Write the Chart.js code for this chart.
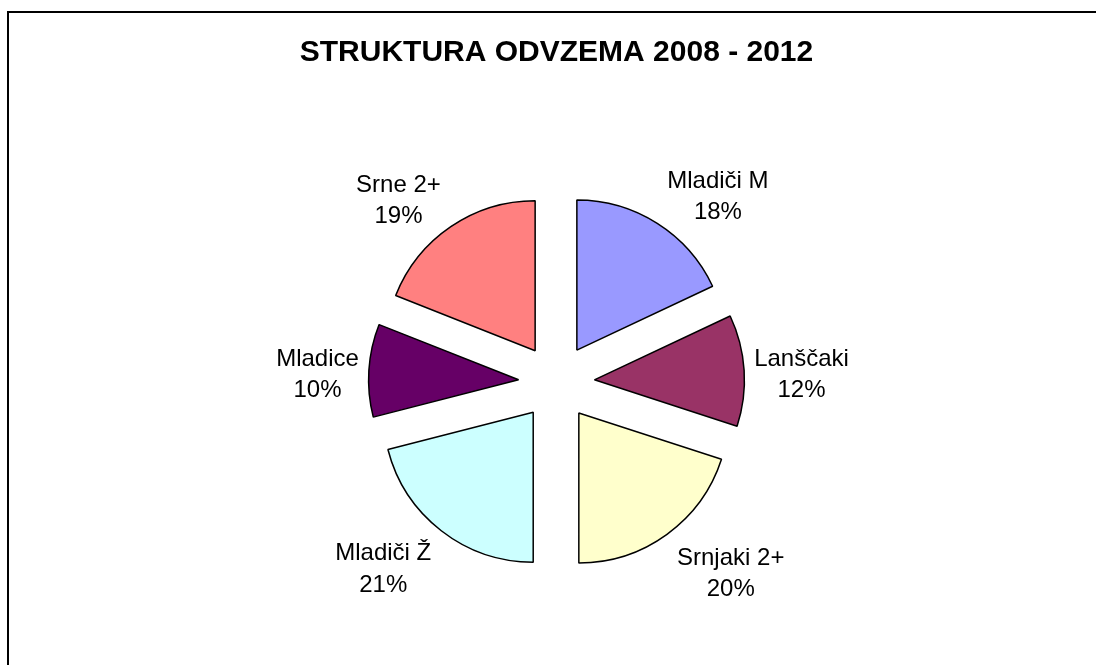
<!DOCTYPE html>
<html>
<head>
<meta charset="utf-8">
<script src="https://cdn.jsdelivr.net/npm/chart.js@4"></script>
<style>
body { margin: 0; background: #fff; }
#frame { position: absolute; left: 7px; top: 11px; width: 1200px; height: 800px; border: 2px solid #000; }
#graph { position: absolute; left: 0; top: 0; }
</style>
</head>
<body>
<div id="frame"></div>
<canvas id="graph" width="1096" height="665"></canvas>
<script>
const chartTitle = 'STRUKTURA ODVZEMA 2008 - 2012';
const categories = ['Mladiči M', 'Lanščaki', 'Srnjaki 2+', 'Mladiči Ž', 'Mladice', 'Srne 2+'];
const shares = [18, 12, 20, 21, 10, 19];
const colors = ['#9999FF', '#993366', '#FFFFCC', '#CCFFFF', '#660066', '#FF8080'];

const explode = 38;
const labelFont = '24px Arial, "Liberation Sans", sans-serif';

// push every slice out along its own middle angle
// (arc "offset" option also grows small slices, so move the elements instead)
const explodePlugin = {
    id: 'explode',
    afterDatasetsUpdate(chart) {
        chart.getDatasetMeta(0).data.forEach(arc => {
            const mid = (arc.startAngle + arc.endAngle) / 2;
            arc.x += Math.cos(mid) * explode;
            arc.y += Math.sin(mid) * explode;
        });
    }
};

// name + percent beside each slice
const labelPlugin = {
    id: 'sliceLabels',
    afterDatasetsDraw(chart) {
        const ctx = chart.ctx;
        const total = shares.reduce((a, b) => a + b, 0);
        ctx.save();
        ctx.font = labelFont;
        ctx.fillStyle = '#000';
        ctx.textAlign = 'center';
        ctx.textBaseline = 'middle';
        chart.getDatasetMeta(0).data.forEach((arc, i) => {
            const mid = (arc.startAngle + arc.endAngle) / 2;
            const cos = Math.cos(mid), sin = Math.sin(mid);
            const ax = arc.x + cos * arc.outerRadius;
            const ay = arc.y + sin * arc.outerRadius;
            const lines = [categories[i], Math.round(shares[i] / total * 100) + '%'];
            const hw = Math.max(...lines.map(t => ctx.measureText(t).width)) / 2;
            const cx = ax + Math.sign(cos) * (hw + 10);
            const cy = ay + sin * 40 + 7;
            ctx.fillText(lines[0], cx, cy - 15.75);
            ctx.fillText(lines[1], cx, cy + 15.75);
        });
        ctx.restore();
    }
};

new Chart(document.getElementById('graph'), {
    type: 'pie',
    data: {
        labels: categories,
        datasets: [{
            data: shares,
            backgroundColor: colors,
            borderColor: '#000',
            borderWidth: 1.5,
            radius: 150
        }]
    },
    options: {
        responsive: false,
        animation: false,
        events: [],
        layout: {
            padding: { top: 35, bottom: 0, left: 17, right: 0 }
        },
        plugins: {
            legend: { display: false },
            tooltip: { enabled: false },
            title: {
                display: true,
                text: chartTitle,
                color: '#000',
                font: { family: 'Arial, "Liberation Sans", sans-serif', size: 30, weight: 'bold' },
                padding: { top: 0, bottom: 28.4 }
            }
        }
    },
    plugins: [explodePlugin, labelPlugin]
});
</script>
</body>
</html>
